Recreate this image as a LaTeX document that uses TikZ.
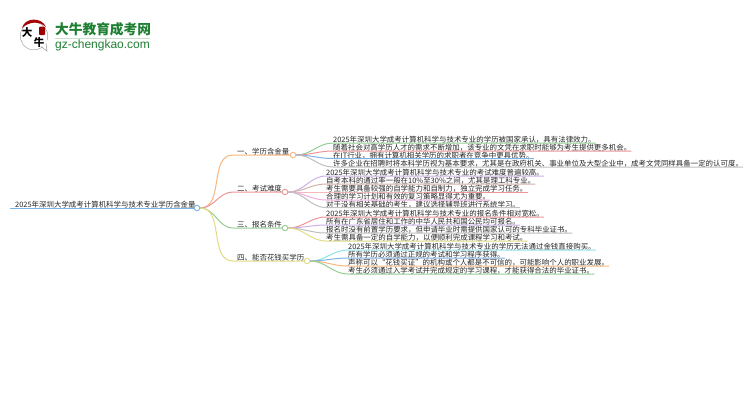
\documentclass[tikz,border=0pt]{standalone}
\usepackage{fontspec}
\setmainfont{Noto Sans CJK SC}
\newfontfamily\latinlogo{Liberation Sans}
\definecolor{cTxt}{HTML}{262626}
\definecolor{cBlue}{HTML}{7DB3E3}
\definecolor{cOrange}{HTML}{F9B67F}
\definecolor{cRed}{HTML}{EE9697}
\definecolor{cGreen}{HTML}{93CF92}
\definecolor{cYellow}{HTML}{E0DC85}
\definecolor{cPurple}{HTML}{CDB0E8}
\definecolor{cBrown}{HTML}{D3B0A8}
\definecolor{cPink}{HTML}{F2ACE2}
\definecolor{cGrey}{HTML}{C0C0C0}
\definecolor{cCyan}{HTML}{8CE3EA}
\definecolor{cLogo}{HTML}{1F7F33}
\tikzset{
  lab/.style={anchor=south west,inner xsep=0pt,inner ysep=-0.5pt,font=\fontsize{7.45}{8}\selectfont,text=cTxt},
  dot/.style={circle,draw,fill=white,line width=0.9pt,minimum size=5.5pt,inner sep=0pt},
  con/.style={line width=1pt},
}
\newcommand{\leafline}[6]{%
  \node[lab] (#2) at (#3,#4) {#6};
  \draw[con,#5] (#1.east) to[out=0,in=180] (#2.south west) -- (#2.south east);
}
\begin{document}
\begin{tikzpicture}[x=1pt,y=-1pt]
\useasboundingbox (0,0) rectangle (750,410);
\fill[white] (0,0) rectangle (750,410);
% logo
\draw[black!35,line width=0.5pt,fill=white] (46,43) arc[start angle=30,end angle=390,radius=13.8] -- cycle;
\fill[white] (40,44) -- (47,51) -- (48,40) -- cycle;
\draw[black!40,line width=0.5pt] (41,46.5) -- (47,51) -- (46,43);
\fill[red!65!black] (22,28) .. controls (25,17) and (42,17) .. (46,27) .. controls (40,21) and (29,21) .. (22,28) -- cycle;
\fill[red!60!black,rounded corners=1pt] (39,26.5) rectangle (45,35);
\node[inner sep=0pt,font=\fontsize{10.5}{11}\selectfont\bfseries] (logoa) at (27,32.5) {大};
\node[inner sep=0pt,font=\fontsize{10.5}{11}\selectfont\bfseries] (logob) at (39,42.5) {牛};
\node[anchor=west,inner sep=0pt,text=cLogo,font=\fontsize{13.7}{14}\selectfont\bfseries] (logot) at (55,29.5) {大牛教育成考网};
\draw[cLogo!25,line width=0.8pt] (55,38.5) -- (150,38.5);
\node[anchor=west,inner sep=0pt,text=cLogo,font=\latinlogo\fontsize{12}{12}\selectfont] (logos) at (55,45) {gz-chengkao.com};
% root
\node[lab,inner xsep=5pt] (root) at (10,208) {2025年深圳大学成考计算机科学与技术专业学历含金量};
\node[dot,draw=cBlue] (rc) at (197,208) {};
\draw[con,cBlue] (root.south west) -- (rc.west);
% branches
\node[lab,inner xsep=4pt] (b1) at (233,155) {一、学历含金量};
\node[lab,inner xsep=4pt] (b2) at (233,192) {二、考试难度};
\node[lab,inner xsep=4pt] (b3) at (233,228) {三、报名条件};
\node[lab,inner xsep=4pt] (b4) at (233,261) {四、能否花钱买学历};
\node[dot,draw=cOrange] (c1) at (293,155) {};
\node[dot,draw=cRed] (c2) at (285,192) {};
\node[dot,draw=cGreen] (c3) at (285,228) {};
\node[dot,draw=cYellow] (c4) at (307,261) {};
\draw[con,cOrange] (rc.east) to[out=0,in=180] (b1.south west) -- (c1.west);
\draw[con,cRed] (rc.east) to[out=0,in=180] (b2.south west) -- (c2.west);
\draw[con,cGreen] (rc.east) to[out=0,in=180] (b3.south west) -- (c3.west);
\draw[con,cYellow] (rc.east) to[out=0,in=180] (b4.south west) -- (c4.west);
% leaves
\leafline{c1}{a1}{333}{143}{cGreen}{2025年深圳大学成考计算机科学与技术专业的学历被国家承认，具有法律效力。}
\leafline{c1}{a2}{333}{151}{cRed}{随着社会对高学历人才的需求不断增加，该专业的文凭在求职时能够为考生提供更多机会。}
\leafline{c1}{a3}{333}{158.5}{cBlue}{在IT行业，拥有计算机相关学历的求职者在竞争中更具优势。}
\leafline{c1}{a4}{333}{167}{cGrey}{许多企业在招聘时将本科学历视为基本要求，尤其是在政府机关、事业单位及大型企业中，成考文凭同样具备一定的认可度。}
\leafline{c2}{e1}{326}{176}{cPurple}{2025年深圳大学成考计算机科学与技术专业的考试难度普遍较高。}
\leafline{c2}{e2}{326}{184}{cBrown}{自考本科的通过率一般在10\%至30\%之间，尤其是理工科专业。}
\leafline{c2}{e3}{326}{192}{cRed}{考生需要具备较强的自学能力和自制力，独立完成学习任务。}
\leafline{c2}{e4}{326}{200}{cPink}{合理的学习计划和有效的复习策略显得尤为重要。}
\leafline{c2}{e5}{326}{207.5}{cGrey}{对于没有相关基础的考生，建议选择辅导班进行系统学习。}
\leafline{c3}{f1}{326}{217}{cRed}{2025年深圳大学成考计算机科学与技术专业的报名条件相对宽松。}
\leafline{c3}{f2}{326}{225}{cPurple}{所有在广东省居住和工作的中华人民共和国公民均可报名。}
\leafline{c3}{f3}{326}{233}{cGrey}{报名时没有前置学历要求，但申请毕业时需提供国家认可的专科毕业证书。}
\leafline{c3}{f4}{326}{241}{cYellow}{考生需具备一定的自学能力，以便顺利完成课程学习和考试。}
\leafline{c4}{g1}{348}{250}{cCyan}{2025年深圳大学成考计算机科学与技术专业的学历无法通过金钱直接购买。}
\leafline{c4}{g2}{348}{258}{cBlue}{所有学历必须通过正规的考试和学习程序获得。}
\leafline{c4}{g3}{348}{266}{cOrange}{声称可以“花钱买证”的机构或个人都是不可信的，可能影响个人的职业发展。}
\leafline{c4}{g4}{348}{274}{cGreen}{考生必须通过入学考试并完成规定的学习课程，才能获得合法的毕业证书。}
\end{tikzpicture}
\end{document}
